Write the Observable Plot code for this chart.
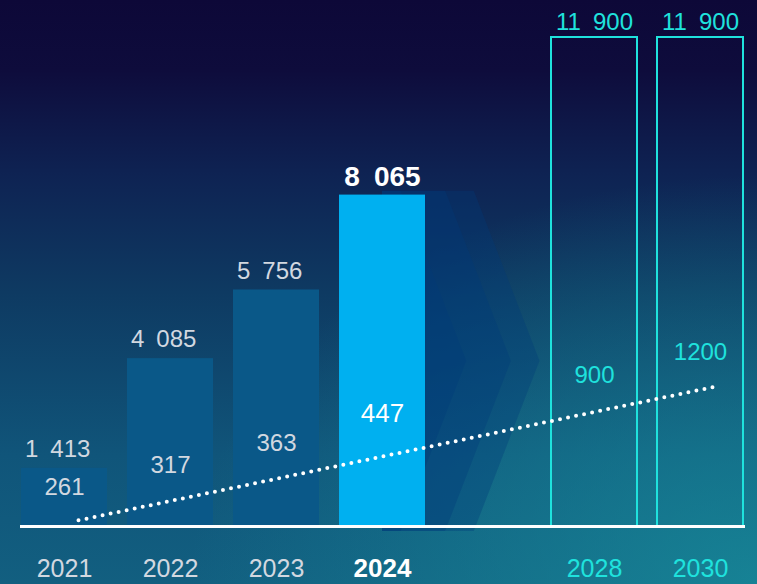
<!DOCTYPE html>
<html>
<head>
<meta charset="utf-8">
<script src="https://cdn.jsdelivr.net/npm/d3@7"></script>
<script src="https://cdn.jsdelivr.net/npm/@observablehq/plot@0.6"></script>
<style>
  html, body { margin: 0; padding: 0; background: #0d0838; }
  #chart svg { display: block; }
</style>
</head>
<body>
<div id="chart"></div>
<script>
// ---- data ----
const slots = ["2021", "2022", "2023", "2024", "gap", "2028", "2030"];
const actualYears = ["2021", "2022", "2023", "2024"];
const actualValues = [1413, 4085, 5756, 8065];
const targetYears = ["2028", "2030"];
const targetValues = [11900, 11900];
const innerYears = ["2021", "2022", "2023", "2024", "2028", "2030"];
const innerValues = [261, 317, 363, 447, 900, 1200];
const trendYears = ["2021", "2030"];
const trendValues = [150, 3400];
const labelYears = ["2021", "2022", "2023", "2024", "2028", "2030"];
const highlightYear = "2024";

// chevron decoration (in band steps / data units)
const chevronTop = 8160;
const chevronReach = [0.39, 0.81, 1.08];
const chevronDepth = 0.62;

// ---- colours ----
const GREY = "#d2d8e0";
const TURQ = "#1fe2dd";
const BRIGHT = "#00b0f0";
const DARKBAR = "#0a5888";

// thousands separated by a wide space, as in the reference
const fmt = d3.formatLocale({decimal: ",", thousands: "\u2002", grouping: [3], currency: ["", ""]}).format(",d");

const actual = actualYears.map((year, i) => ({year, value: actualValues[i]}));
const targets = targetYears.map((year, i) => ({year, value: targetValues[i]}));
const trend = trendYears.map((year, i) => ({year, value: trendValues[i]}));
const t0 = slots.indexOf(trendYears[0]), t1 = slots.indexOf(trendYears[1]);
const trendAt = (year) => trendValues[0] + (trendValues[1] - trendValues[0]) * (slots.indexOf(year) - t0) / (t1 - t0);
const inner = innerYears.map((year, i) => ({year, value: innerValues[i], pos: trendAt(year)}));
const years = labelYears.map(year => ({year}));

const isH = d => d.year === highlightYear;
const isT = d => targetYears.includes(d.year);

function chevrons(index, scales) {
  const x = scales.x, y = scales.y;
  const bw = x.bandwidth(), step = x.step();
  const left = x(highlightYear) + bw / 2;
  const right = x(highlightYear) + bw;
  const top = y(chevronTop), bottom = y(0) + 5;
  const mid = (top + bottom) / 2;
  const g = d3.create("svg:g");
  for (const r of chevronReach) {
    const tip = right + r * step;
    const back = tip - chevronDepth * step;
    const pts = [[left, top], [back, top], [tip, mid], [back, bottom], [left, bottom]];
    g.append("polygon")
      .attr("points", pts.map(p => p.join(",")).join(" "))
      .attr("fill", "#003a78")
      .attr("fill-opacity", 0.33);
  }
  return g.node();
}

const plot = Plot.plot({
  width: 757,
  height: 584,
  marginLeft: 8,
  marginRight: 1,
  marginTop: 37,
  marginBottom: 58,
  x: {domain: slots, paddingInner: 0.187, paddingOuter: 0.0935, axis: null},
  y: {domain: [0, 11900], axis: null},
  style: {
    fontFamily: "'Liberation Sans', Arial, sans-serif",
    background: "radial-gradient(ellipse 75% 70% at 100% 100%, rgba(24,142,156,0.75), rgba(24,142,156,0) 100%), linear-gradient(180deg, #0d0838 0%, #0e0c3c 12%, #0e2353 30%, #0e3a62 50%, #10557a 78%, #125f80 100%)"
  },
  marks: [
    chevrons,
    Plot.barY(actual.filter(d => !isH(d)), {x: "year", y: "value", fill: DARKBAR}),
    Plot.barY(actual.filter(isH), {x: "year", y: "value", fill: BRIGHT}),
    Plot.barY(targets, {x: "year", y: "value", fill: "none", stroke: TURQ, strokeWidth: 2}),
    Plot.ruleY([0], {stroke: "white", strokeWidth: 3, insetLeft: 12, insetRight: 11}),
    Plot.line(trend, {x: "year", y: "value", dx: 14, stroke: "white", strokeWidth: 4,
      strokeDasharray: "0 8.2", strokeLinecap: "round"}),
    // top value labels
    Plot.text(actual.filter(d => !isH(d)), {x: "year", y: "value", text: d => fmt(d.value), dy: -19, dx: -39.5, textAnchor: "start", fontSize: 24, fill: GREY}),
    Plot.text(actual.filter(isH), {x: "year", y: "value", text: d => fmt(d.value), dy: -18, fontSize: 28, fontWeight: "bold", fill: "white"}),
    Plot.text(targets, {x: "year", y: "value", text: d => fmt(d.value), dy: -15, fontSize: 24, fill: TURQ}),
    // inner labels
    Plot.text(inner.filter(d => !isH(d) && !isT(d)), {x: "year", y: "pos", text: d => String(d.value), dy: -33, fontSize: 24, fill: GREY}),
    Plot.text(inner.filter(isH), {x: "year", y: "pos", text: d => String(d.value), dy: -40, fontSize: 26, fill: "white"}),
    Plot.text(inner.filter(isT), {x: "year", y: "pos", text: d => String(d.value), dy: -34, fontSize: 24, fill: TURQ}),
    // year labels
    Plot.text(years.filter(d => !isH(d) && !isT(d)), {x: "year", y: 0, text: "year", dy: 42, fontSize: 25, fill: GREY}),
    Plot.text(years.filter(isH), {x: "year", y: 0, text: "year", dy: 42, fontSize: 26, fontWeight: "bold", fill: "white"}),
    Plot.text(years.filter(isT), {x: "year", y: 0, text: "year", dy: 42, fontSize: 25, fill: TURQ})
  ]
});
document.getElementById("chart").appendChild(plot);
</script>
</body>
</html>
